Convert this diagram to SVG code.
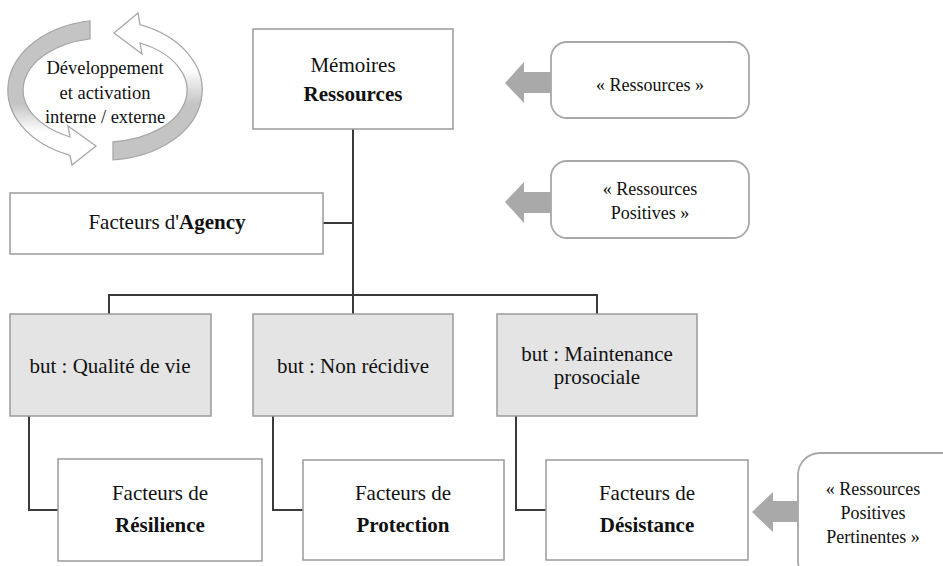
<svg xmlns="http://www.w3.org/2000/svg" width="943" height="566" viewBox="0 0 943 566" font-family="'Liberation Serif', Tinos, 'Times New Roman', 'DejaVu Serif', serif">
<style>
text{font-family:'Liberation Serif', Tinos, 'Times New Roman', 'DejaVu Serif', serif;font-size:21px;fill:#111;text-anchor:middle}
.sm{font-size:18px}
.cy{font-size:18.5px}
.b{font-weight:bold}
.box{fill:#fff;stroke:#9a9a9a;stroke-width:1.5}
.gbox{fill:#e4e4e4;stroke:#9a9a9a;stroke-width:1.5}
.rbox{fill:#fff;stroke:#a8a8a8;stroke-width:1.8}
.conn{fill:none;stroke:#3a3a3a;stroke-width:2}
.arr{fill:#a9a9a9;stroke:none}
.cyc{stroke:#a8a8a8;stroke-width:1.3}
</style>
<defs>
<linearGradient id="gl" gradientUnits="userSpaceOnUse" x1="0" y1="20" x2="0" y2="160">
<stop offset="0" stop-color="#c4c4c4"/><stop offset="0.6" stop-color="#c4c4c4"/><stop offset="0.8" stop-color="#fff"/></linearGradient>
<linearGradient id="gr" gradientUnits="userSpaceOnUse" x1="0" y1="20" x2="0" y2="160">
<stop offset="0.35" stop-color="#fff"/><stop offset="0.6" stop-color="#c4c4c4"/><stop offset="1" stop-color="#c4c4c4"/></linearGradient>
</defs>

<g id="cycle">
<path class="cyc" fill="url(#gl)" d="M 90 20.8 A 97 70 0 0 0 70 155.3 L 72 165 L 96 146 L 68 126 L 70 137 A 82 52 0 0 1 90 38.9 Z"/>
<path class="cyc" fill="url(#gr)" d="M 140 24.7 A 97 70 0 0 1 113 159.8 L 113 141.8 A 82 52 0 0 0 140 43 L 142 54 L 114 33 L 138 13 Z"/>
<text class="cy" x="105" y="74">Développement</text>
<text class="cy" x="105" y="99">et activation</text>
<text class="cy" x="105" y="123">interne / externe</text>
</g>

<g id="connectors">
<path class="conn" d="M 353 129 V 295"/>
<path class="conn" d="M 323 223 H 353"/>
<path class="conn" d="M 109 314 V 295 H 597 V 314"/>
<path class="conn" d="M 353 295 V 314"/>
<path class="conn" d="M 29 416 V 510 H 58"/>
<path class="conn" d="M 273 416 V 510 H 303"/>
<path class="conn" d="M 516 416 V 510 H 546"/>
</g>

<g id="memoires">
<rect class="box" x="253" y="29" width="200" height="100"/>
<text x="353" y="72">Mémoires</text>
<text class="b" x="353" y="101">Ressources</text>
</g>

<g id="agency">
<rect class="box" x="10" y="193" width="313" height="61"/>
<text x="167" y="229">Facteurs d'<tspan class="b">Agency</tspan></text>
</g>

<g id="ressources">
<path class="arr" d="M 505 83 L 524 62 V 72 H 551 V 93 H 524 V 103 Z"/>
<rect class="rbox" x="551" y="42" width="198" height="76" rx="16"/>
<text class="sm" x="650" y="91">« Ressources »</text>
</g>

<g id="ressources-positives">
<path class="arr" d="M 505 202 L 524 182 V 192 H 551 V 213 H 524 V 223 Z"/>
<rect class="rbox" x="551" y="161" width="198" height="77" rx="16"/>
<text class="sm" x="650" y="195">« Ressources</text>
<text class="sm" x="650" y="219">Positives »</text>
</g>

<g id="but-qualite">
<rect class="gbox" x="10" y="314" width="201" height="102"/>
<text x="110" y="373">but : Qualité de vie</text>
</g>

<g id="but-non-recidive">
<rect class="gbox" x="253" y="314" width="200" height="102"/>
<text x="353" y="373">but : Non récidive</text>
</g>

<g id="but-maintenance">
<rect class="gbox" x="497" y="314" width="200" height="102"/>
<text x="597" y="361">but : Maintenance</text>
<text x="597" y="384">prosociale</text>
</g>

<g id="resilience">
<rect class="box" x="58" y="459" width="204" height="102"/>
<text x="160" y="500">Facteurs de</text>
<text class="b" x="160" y="532">Résilience</text>
</g>

<g id="protection">
<rect class="box" x="303" y="460" width="201" height="100"/>
<text x="403" y="500">Facteurs de</text>
<text class="b" x="403" y="532">Protection</text>
</g>

<g id="desistance">
<rect class="box" x="546" y="460" width="202" height="100"/>
<text x="647" y="500">Facteurs de</text>
<text class="b" x="647" y="532">Désistance</text>
</g>

<g id="ressources-pertinentes">
<path class="arr" d="M 752 512 L 773 492 V 501 H 799 V 522 H 773 V 532 Z"/>
<rect class="rbox" x="798" y="453" width="170" height="130" rx="22"/>
<text class="sm" x="873" y="495">« Ressources</text>
<text class="sm" x="873" y="519">Positives</text>
<text class="sm" x="873" y="543">Pertinentes »</text>
</g>
</svg>
